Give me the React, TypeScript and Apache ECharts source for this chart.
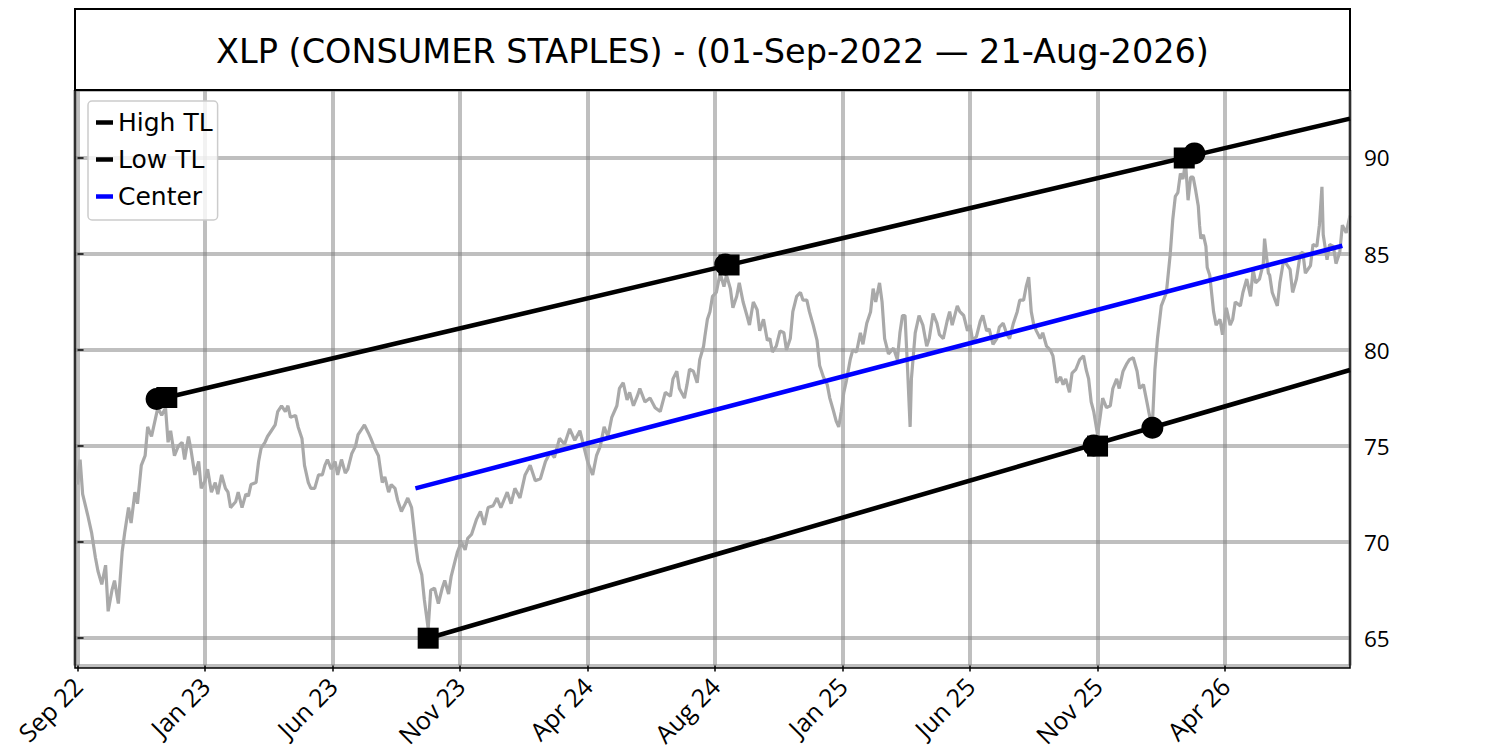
import React, { useEffect, useRef } from "react";
import * as echarts from "echarts";

// Trading-day index (0 = 01-Sep-2022) and closing price of XLP
const priceDay = [
  0, 2, 4, 8, 11, 14, 16, 19, 22, 24, 27, 29, 32, 35, 37, 40, 42, 45, 47, 50, 53, 55, 58, 61, 63, 66, 69, 71, 73, 76, 79,
  82, 84, 87, 89, 92, 95, 97, 100, 102, 105, 108, 110, 113, 116, 118, 120, 124, 126, 129, 132, 134, 136, 140, 142, 144,
  147, 149, 152, 155, 157, 160, 163, 165, 167, 171, 173, 176, 178, 181, 183, 186, 189, 192, 194, 196, 199, 202, 204, 207,
  210, 212, 215, 218, 220, 223, 225, 228, 230, 233, 236, 239, 241, 244, 246, 249, 251, 254, 257, 259, 262, 265, 267, 270,
  272, 275, 277, 280, 283, 286, 288, 291, 293, 296, 298, 301, 304, 306, 309, 313, 316, 319, 322, 326, 329, 332, 337, 340,
  343, 347, 351, 355, 359, 363, 367, 371, 374, 378, 382, 386, 390, 394, 397, 400, 404, 407, 410, 413, 416, 419, 423, 425,
  428, 431, 433, 436, 439, 441, 445, 449, 453, 457, 461, 465, 467, 470, 472, 476, 478, 480, 483, 486, 488, 491, 492, 494,
  496, 498, 501, 504, 507, 509, 512, 514, 517, 519, 522, 525, 527, 530, 533, 535, 538, 541, 543, 545, 548, 551, 554, 556,
  559, 561, 564, 567, 569, 572, 574, 577, 580, 582, 585, 588, 590, 593, 595, 597, 599, 601, 603, 606, 608, 611, 614, 616,
  619, 622, 624, 626, 629, 631, 633, 636, 640, 643, 645, 647, 649, 651, 653, 654, 657, 660, 663, 666, 668, 671, 674, 676,
  679, 682, 684, 686, 690, 692, 695, 698, 700, 702, 705, 708, 710, 713, 715, 718, 721, 723, 726, 729, 731, 734, 737, 739,
  742, 744, 746, 748, 750, 752, 755, 757, 760, 763, 765, 768, 771, 773, 775, 778, 780, 783, 786, 789, 791, 793, 795, 797,
  800, 802, 804, 807, 810, 812, 815, 817, 820, 823, 825, 828, 831, 833, 836, 839, 841, 843, 845, 847, 850, 854, 857, 859,
  861, 863, 865, 867, 869, 871, 873, 875, 877, 879, 880, 881, 883, 885, 886, 888, 891, 893, 896, 898, 901, 904, 906, 908,
  912, 914, 917, 920, 922, 924, 927, 930, 931, 934, 935, 937, 941, 943, 946, 948, 951, 953, 956, 959, 961, 963, 967, 969,
  972, 974, 976, 977, 980, 982, 985, 987, 990, 992, 995, 998,
];
const priceClose = [
  73.0, 74.3, 72.5, 71.4, 70.5, 69.2, 68.5, 67.8, 68.8, 66.4, 67.5, 68.0, 66.8, 69.5, 70.5, 71.8, 71.0, 72.6, 72.0, 74.0,
  74.5, 76.0, 75.5, 76.4, 77.0, 76.6, 77.0, 75.2, 75.8, 74.5, 75.0, 75.2, 74.3, 75.5, 74.8, 73.5, 74.2, 72.8, 73.2, 73.8,
  72.6, 73.1, 72.5, 73.5, 72.8, 72.6, 71.8, 72.1, 72.6, 71.8, 72.5, 72.4, 73.0, 73.1, 74.2, 74.9, 75.2, 75.5, 75.8, 76.1,
  76.8, 77.1, 76.8, 77.1, 76.5, 76.6, 76.0, 75.4, 74.0, 73.1, 72.8, 72.8, 73.5, 73.5, 74.0, 74.3, 73.8, 74.2, 73.5, 74.3,
  73.6, 73.8, 74.6, 75.0, 75.6, 75.9, 76.1, 75.7, 75.4, 74.9, 74.5, 73.1, 73.4, 72.6, 73.0, 72.8, 72.2, 71.6, 72.0, 72.3,
  71.8, 70.0, 69.0, 68.3, 67.0, 65.5, 67.5, 67.6, 66.8, 67.6, 68.0, 67.3, 68.2, 69.0, 69.5, 70.0, 69.6, 70.2, 70.4, 71.2,
  71.6, 70.9, 71.8, 71.9, 72.3, 71.8, 72.6, 72.0, 72.8, 72.3, 73.5, 74.0, 73.2, 73.3, 74.2, 74.7, 74.4, 75.4, 75.1, 75.9,
  75.3, 75.8, 75.0, 74.2, 73.5, 74.5, 75.0, 76.0, 75.5, 76.5, 77.1, 78.0, 78.3, 77.4, 77.8, 77.1, 77.6, 78.0, 77.3, 77.5,
  77.0, 76.8, 77.8, 77.6, 78.5, 78.9, 78.0, 77.5, 78.2, 79.0, 78.9, 78.3, 79.5, 80.2, 80.7, 81.6, 82.0, 82.8, 83.0, 84.0,
  83.3, 83.9, 83.2, 82.2, 82.8, 83.5, 82.5, 81.8, 81.3, 82.5, 82.1, 81.0, 81.6, 80.5, 80.6, 79.9, 80.2, 81.0, 80.9, 80.0,
  80.6, 82.0, 82.8, 83.0, 82.6, 82.6, 82.0, 81.3, 80.5, 79.2, 78.6, 78.2, 77.5, 76.8, 76.3, 76.0, 76.8, 77.8, 78.4, 79.5,
  80.0, 79.9, 80.9, 80.3, 81.4, 82.0, 83.2, 82.5, 83.5, 82.5, 80.6, 79.8, 80.1, 79.5, 80.9, 81.8, 81.8, 79.0, 76.0, 78.5,
  80.9, 81.8, 81.3, 80.2, 80.6, 81.9, 81.4, 80.8, 80.6, 81.5, 82.0, 81.3, 82.3, 82.0, 81.8, 81.0, 81.3, 80.5, 80.7, 81.5,
  81.8, 81.0, 81.1, 80.3, 80.6, 81.2, 81.4, 80.8, 80.6, 81.4, 82.0, 82.6, 82.6, 83.3, 83.8, 82.0, 81.3, 81.0, 80.6, 80.9,
  80.2, 80.0, 79.7, 78.3, 78.6, 78.2, 78.5, 77.8, 78.8, 79.0, 79.5, 79.7, 79.0, 78.5, 77.3, 76.8, 75.6, 76.5, 77.5, 77.0,
  77.1, 78.0, 78.5, 78.0, 78.9, 79.3, 79.5, 79.6, 78.9, 78.0, 78.2, 77.2, 76.5, 76.1, 79.0, 80.6, 82.3, 83.0, 85.0, 86.8,
  88.0, 88.2, 89.2, 88.9, 89.8, 87.8, 89.0, 89.0, 88.3, 87.5, 86.5, 85.8, 86.0, 85.4, 84.3, 83.9, 82.0, 81.3, 81.6, 80.8,
  82.2, 81.3, 81.6, 82.5, 82.3, 83.0, 83.7, 82.8, 84.2, 83.5, 83.7, 84.5, 85.8, 84.0, 83.9, 83.0, 82.3, 83.5, 84.7, 84.5,
  84.2, 83.0, 83.7, 85.0, 85.1, 84.0, 84.4, 85.5, 85.4, 86.5, 88.5, 86.0, 84.7, 85.5, 85.4, 84.5, 85.1, 86.5, 86.1, 87.0,
];

// Trend lines
const highTLDay = [70, 998];
const highTLVal = [77.53, 92.05];
const lowTLDay = [275, 998];
const lowTLVal = [65.0, 78.96];
const centerDay = [265, 992];
const centerVal = [72.8, 85.43];

// Pivot markers
const circleDay = [62, 508, 876, 797, 843];
const circleVal = [77.45, 84.45, 90.24, 75.03, 75.96];
const squareDay = [70, 511, 868, 275, 800];
const squareVal = [77.53, 84.43, 90.0, 65.0, 75.0];

// Axis
const xTickLabels = ["Sep 22", "Jan 23", "Jun 23", "Nov 23", "Apr 24", "Aug 24", "Jan 25", "Jun 25", "Nov 25", "Apr 26"];
const xTickStep = 100;
const titleText = "XLP (CONSUMER STAPLES) - (01-Sep-2022 \u2014 21-Aug-2026)";

const zip = (a: number[], b: number[]) => a.map((v, i) => [v, b[i]]);

export default function App() {
  const ref = useRef<HTMLDivElement>(null);
  useEffect(() => {
    if (!ref.current) return;
    const chart = echarts.init(ref.current, undefined, { renderer: "svg" });
    const gridColor = "rgba(128,128,128,0.5)";
    chart.setOption({
      animation: false,
      backgroundColor: "#fff",
      grid: { left: 75, right: 150, top: 90, bottom: 82, containLabel: false },
      xAxis: {
        type: "value",
        min: -2,
        max: 998,
        splitNumber: 10,
        axisLine: { show: false },
        axisTick: { show: true, length: 6, lineStyle: { color: "#000", width: 1.5 } },
        axisLabel: {
          fontFamily: "Open Sans",
          fontSize: 25,
          color: "#000",
          rotate: 45,
          margin: 16,
          showMinLabel: false,
          showMaxLabel: false,
          formatter: (v: number) => {
            const k = Math.round(v / xTickStep);
            if (Math.abs(v - k * xTickStep) > 1e-6 || k < 0 || k >= xTickLabels.length) return "";
            return xTickLabels[k];
          },
        },
        splitLine: { show: true, lineStyle: { color: gridColor, width: 4 } },
      },
      yAxis: {
        type: "value",
        position: "right",
        min: 63.58,
        max: 93.54,
        splitNumber: 6,
        axisLine: { show: false },
        axisTick: { show: true, length: 6, lineStyle: { color: "#000", width: 1.5 } },
        axisLabel: {
          fontFamily: "Open Sans",
          fontSize: 22.5,
          color: "#000",
          margin: 14,
          showMinLabel: false,
          showMaxLabel: false,
          formatter: (v: number) => {
            const k = Math.round(v / 5);
            return Math.abs(v - k * 5) < 1e-6 ? String(k * 5) : "";
          },
        },
        splitLine: { show: true, lineStyle: { color: gridColor, width: 4 } },
      },
      legend: {
        orient: "vertical",
        left: 88,
        top: 101,
        padding: [6, 5, 8, 8],
        itemGap: 6,
        itemWidth: 17,
        itemHeight: 4.5,
        icon: "rect",
        backgroundColor: "rgba(255,255,255,0.8)",
        borderColor: "#cccccc",
        borderWidth: 1.5,
        borderRadius: 4,
        textStyle: { fontFamily: "DejaVu Sans", fontSize: 25, color: "#000", lineHeight: 31 },
        data: ["High TL", "Low TL", "Center"],
      },
      graphic: [
        {
          type: "rect",
          z: 100,
          shape: { x: 75, y: 9, width: 1275, height: 81 },
          style: { fill: "#fff", stroke: "#000", lineWidth: 2 },
        },
        {
          type: "text",
          z: 101,
          style: {
            text: titleText,
            x: 712.5,
            y: 51,
            align: "center",
            verticalAlign: "middle",
            font: "33.5px 'DejaVu Sans'",
            fill: "#000",
          },
        },
        {
          type: "rect",
          z: 100,
          shape: { x: 75, y: 90, width: 1275, height: 578 },
          style: { fill: "none", stroke: "#000", lineWidth: 1.5 },
        },
      ],
      series: [
        {
          name: "Price",
          type: "line",
          data: zip(priceDay, priceClose),
          showSymbol: false,
          lineStyle: { color: "#a9a9a9", width: 3.2 },
          z: 2,
        },
        {
          name: "High TL",
          type: "line",
          data: zip(highTLDay, highTLVal),
          showSymbol: false,
          itemStyle: { color: "#000" },
          lineStyle: { color: "#000", width: 4.6 },
          z: 3,
        },
        {
          name: "Low TL",
          type: "line",
          data: zip(lowTLDay, lowTLVal),
          showSymbol: false,
          itemStyle: { color: "#000" },
          lineStyle: { color: "#000", width: 4.6 },
          z: 3,
        },
        {
          name: "Center",
          type: "line",
          data: zip(centerDay, centerVal),
          showSymbol: false,
          itemStyle: { color: "#0000ff" },
          lineStyle: { color: "#0000ff", width: 4.6 },
          z: 3,
        },
        {
          name: "Pivots",
          type: "scatter",
          data: zip(circleDay, circleVal),
          symbol: "circle",
          symbolSize: 22,
          itemStyle: { color: "#000", opacity: 1 },
          z: 4,
        },
        {
          name: "Anchors",
          type: "scatter",
          data: zip(squareDay, squareVal),
          symbol: "rect",
          symbolSize: 21,
          itemStyle: { color: "#000", opacity: 1 },
          z: 4,
        },
      ],
    });
    return () => chart.dispose();
  }, []);
  return (
    <div
      ref={ref}
      style={{ position: "fixed", left: 0, top: 0, width: 1500, height: 750, background: "#fff" }}
    />
  );
}
